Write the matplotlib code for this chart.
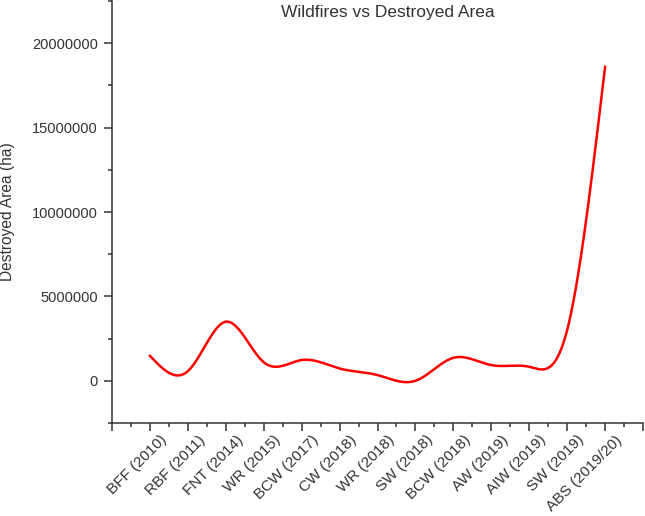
import numpy as np
import matplotlib
matplotlib.use("Agg")
import matplotlib.pyplot as plt
from matplotlib.ticker import MultipleLocator, FixedLocator
from matplotlib.transforms import ScaledTranslation

# ---------------- DATA ----------------
fires = ["BFF (2010)", "RBF (2011)", "FNT (2014)", "WR (2015)", "BCW (2017)",
         "CW (2018)", "WR (2018)", "SW (2018)", "BCW (2018)", "AW (2019)",
         "AIW (2019)", "SW (2019)", "ABS (2019/20)"]
area_ha = [1480000, 570000, 3500000, 1100000, 1230000,
           730000, 340000, 0, 1360000, 930000,
           830000, 3000000, 18600000]
yticks = [0, 5000000, 10000000, 15000000, 20000000]
# --------------------------------------


def natural_spline(x, y, n=400):
    # plain natural cubic spline, just for drawing the smooth line
    x = np.asarray(x, float)
    y = np.asarray(y, float)
    k = len(x)
    h = np.diff(x)
    A = np.zeros((k, k))
    r = np.zeros(k)
    A[0, 0] = A[-1, -1] = 1
    for i in range(1, k - 1):
        A[i, i - 1] = h[i - 1]
        A[i, i] = 2 * (h[i - 1] + h[i])
        A[i, i + 1] = h[i]
        r[i] = 3 * ((y[i + 1] - y[i]) / h[i] - (y[i] - y[i - 1]) / h[i - 1])
    c = np.linalg.solve(A, r)
    b = (y[1:] - y[:-1]) / h - h * (2 * c[:-1] + c[1:]) / 3
    d = (c[1:] - c[:-1]) / (3 * h)
    xs = np.linspace(x[0], x[-1], n)
    idx = np.clip(np.searchsorted(x, xs) - 1, 0, k - 2)
    t = xs - x[idx]
    ys = y[idx] + b[idx] * t + c[idx] * t ** 2 + d[idx] * t ** 3
    return xs, ys


plt.rcParams["font.family"] = ["Liberation Sans", "DejaVu Sans"]
grey = "#333333"

fig = plt.figure(figsize=(6.45, 5.16), dpi=100)
ax = fig.add_axes([112 / 645, 93 / 516, 531 / 645, 422 / 516])

pos = np.arange(len(fires))
xs, ys = natural_spline(pos, area_ha)
ax.plot(xs, ys, color="#ff0000", lw=1.8)

ax.set_xlim(-1, 13)
ax.set_ylim(-2500000, 22500000)

# category ticks plus one empty tick at each end, minor ticks in between
ax.set_xticks(np.arange(-1, 14))
ax.set_xticklabels([""] + fires + [""])
ax.xaxis.set_minor_locator(MultipleLocator(0.5))
ax.yaxis.set_major_locator(FixedLocator(yticks))
ax.yaxis.set_minor_locator(MultipleLocator(2500000))
ax.set_yticklabels([str(v) for v in yticks])

for s in ["top", "right"]:
    ax.spines[s].set_visible(False)
for s in ["left", "bottom"]:
    ax.spines[s].set_linewidth(1.1)
    ax.spines[s].set_color(grey)

ax.tick_params(which="major", length=6, width=1.1, color=grey,
               labelcolor=grey, pad=4)
ax.tick_params(which="minor", length=3, width=1.1, color=grey)
ax.tick_params(axis="y", labelsize=10.5)
ax.tick_params(axis="x", labelsize=11, pad=1)

for lab in ax.get_xticklabels():
    lab.set_rotation(45)
    lab.set_ha("right")
    lab.set_va("top")
    lab.set_rotation_mode("anchor")
    lab.set_transform(lab.get_transform() + ScaledTranslation(0.10, 0, fig.dpi_scale_trans))

ax.set_ylabel("Destroyed Area (ha)", fontsize=11.2, color=grey)
ax.yaxis.set_label_coords(-0.183, 0.5)

fig.text(388 / 645, 1 - 12 / 516, "Wildfires vs Destroyed Area",
         ha="center", va="center", fontsize=12.5, color=grey)

fig.savefig("out.png", dpi=100)
